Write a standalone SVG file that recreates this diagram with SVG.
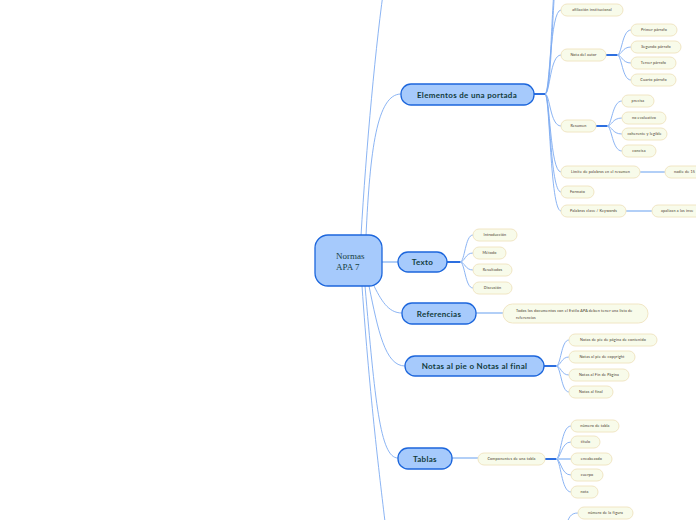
<svg xmlns="http://www.w3.org/2000/svg" width="696" height="520" viewBox="0 0 696 520">
<style>
.bg{fill:#ffffff}
.main rect{fill:#a6cafc;stroke:#1c66dc;stroke-width:1.3}
.main text{font-family:Lato,"Liberation Sans",sans-serif;font-weight:bold;font-size:8px;letter-spacing:0.3px;fill:#123c3c;text-anchor:middle}
.root rect{fill:#a6cafc;stroke:#1c66dc;stroke-width:1.3}
.root text{font-family:"Liberation Serif",serif;font-size:9px;fill:#173f3f}
.leaf rect{fill:#f8fbea;stroke:#f1e6c4;stroke-width:1}
.leaf text{font-family:Lato,"Liberation Sans",sans-serif;font-size:3.7px;letter-spacing:0.2px;fill:#3e3427;text-anchor:middle}
.leaf text.l{text-anchor:start}
.c{fill:none;stroke:#7eacf2;stroke-width:0.9}
.s{fill:none;stroke:#2d6fe0;stroke-width:2}
.h{fill:none;stroke:#b2cff7;stroke-width:2}
</style>
<rect class="bg" x="0" y="0" width="696" height="520"/>
<g id="connectors">
<path class="c" d="M361 236 C366 150 376 40 385 -20"/>
<path class="c" d="M366 236 C370 150 377 94 401 94"/>
<path class="h" d="M381 262 L398 262"/>
<path class="c" d="M373 284 C381 300 388 313 402 313"/>
<path class="c" d="M369 286 C378 330 385 366 405 366"/>
<path class="c" d="M365 286 C375 400 380 458 398 458"/>
<path class="c" d="M362 286 C370 400 380 480 386 530"/>
<path class="s" d="M534 94 L545 94"/>
<path class="c" d="M545 94 C551 94 552 20 556 -30"/>
<path class="c" d="M545 94 C550 94 551 30 554 -10"/>
<path class="c" d="M545 94 C550 94 550 10 561 10"/>
<path class="c" d="M545 94 C550 94 550 55 561 55"/>
<path class="c" d="M545 94 C550 94 550 126 561 126"/>
<path class="c" d="M545 94 C550 94 550 172 561 172"/>
<path class="c" d="M545 94 C550 94 550 192 561 192"/>
<path class="c" d="M545 94 C550 94 550 211 561 211"/>
<path class="s" d="M606 55 L617 55"/>
<path class="c" d="M617 55 C622 55 622 30 631 30"/>
<path class="c" d="M617 55 C622 55 622 47 631 47"/>
<path class="c" d="M617 55 C622 55 622 63 631 63"/>
<path class="c" d="M617 55 C622 55 622 80 631 80"/>
<path class="s" d="M596 126 L607 126"/>
<path class="c" d="M607 126 C612 126 612 101 622 101"/>
<path class="c" d="M607 126 C612 126 612 118 622 118"/>
<path class="c" d="M607 126 C612 126 612 134 622 134"/>
<path class="c" d="M607 126 C612 126 612 151 622 151"/>
<path class="h" d="M640 172 L665 172"/>
<path class="h" d="M626 211 L652 211"/>
<path class="s" d="M447 262 L460 262"/>
<path class="c" d="M460 262 C465 262 465 235 473 235"/>
<path class="c" d="M460 262 C465 262 465 253 473 253"/>
<path class="c" d="M460 262 C465 262 465 270 473 270"/>
<path class="c" d="M460 262 C465 262 465 288 473 288"/>
<path class="h" d="M476 313 L503 313"/>
<path class="s" d="M544 366 L556 366"/>
<path class="c" d="M556 366 C561 366 561 340 569 340"/>
<path class="c" d="M556 366 C561 366 561 357 569 357"/>
<path class="c" d="M556 366 C561 366 561 375 569 375"/>
<path class="c" d="M556 366 C561 366 561 392 569 392"/>
<path class="h" d="M452 458 L478 458"/>
<path class="s" d="M545 459 L556 459"/>
<path class="c" d="M556 459 C561 459 561 426 571 426"/>
<path class="c" d="M556 459 C561 459 561 442 571 442"/>
<path class="h" d="M556 459 L571 459"/>
<path class="c" d="M556 459 C561 459 561 475 571 475"/>
<path class="c" d="M556 459 C561 459 561 492 571 492"/>
<path class="c" d="M566 525 C569 518 570 513 578 513"/>
</g>
<g id="root" class="root">
<rect x="315" y="235" width="67" height="51" rx="13"/>
<text x="336" y="259">Normas</text>
<text x="336" y="270">APA 7</text>
</g>
<g id="n-elementos" class="main"><rect x="401" y="84" width="133" height="21" rx="10"/><text x="467" y="97.5">Elementos de una portada</text></g>
<g id="n-texto" class="main"><rect x="398" y="252" width="49" height="20" rx="10"/><text x="422.5" y="265">Texto</text></g>
<g id="n-referencias" class="main"><rect x="402" y="303" width="74" height="21" rx="10"/><text x="439" y="316.5">Referencias</text></g>
<g id="n-notas" class="main"><rect x="405" y="356" width="139" height="20" rx="10"/><text x="474.5" y="369">Notas al pie o Notas al final</text></g>
<g id="n-tablas" class="main"><rect x="398" y="448" width="54" height="21" rx="10"/><text x="425" y="461.5">Tablas</text></g>

<g id="l-afiliacion" class="leaf"><rect x="561" y="4" width="62" height="12" rx="6"/><text x="592" y="11.3">afiliación institucional</text></g>
<g id="l-nota-autor" class="leaf"><rect x="561" y="49" width="45" height="12" rx="6"/><text x="583.5" y="56.3">Nota del autor</text></g>
<g id="l-primer" class="leaf"><rect x="631" y="24" width="46" height="12" rx="6"/><text x="654" y="31.3">Primer párrafo</text></g>
<g id="l-segundo" class="leaf"><rect x="631" y="41" width="50" height="12" rx="6"/><text x="656" y="48.3">Segundo párrafo</text></g>
<g id="l-tercer" class="leaf"><rect x="631" y="57" width="45" height="12" rx="6"/><text x="653.5" y="64.3">Tercer párrafo</text></g>
<g id="l-cuarto" class="leaf"><rect x="631" y="74" width="45" height="12" rx="6"/><text x="653.5" y="81.3">Cuarto párrafo</text></g>
<g id="l-resumen" class="leaf"><rect x="561" y="120" width="35" height="12" rx="6"/><text x="578.5" y="127.3">Resumen</text></g>
<g id="l-precisa" class="leaf"><rect x="622" y="95" width="32" height="12" rx="6"/><text x="638" y="102.3">precisa</text></g>
<g id="l-noeval" class="leaf"><rect x="622" y="112" width="44" height="12" rx="6"/><text x="644" y="119.3">no evaluativo</text></g>
<g id="l-coherente" class="leaf"><rect x="622" y="128" width="45" height="12" rx="6"/><text x="644.5" y="135.3">coherente y legible</text></g>
<g id="l-concisa" class="leaf"><rect x="622" y="145" width="34" height="12" rx="6"/><text x="639" y="152.3">concisa</text></g>
<g id="l-limite" class="leaf"><rect x="561" y="166" width="79" height="12" rx="6"/><text x="600.5" y="173.3">Límite de palabras en el resumen</text></g>
<g id="l-nadie" class="leaf"><rect x="665" y="166" width="60" height="12" rx="6"/><text class="l" x="674" y="173.3">nadie de 15</text></g>
<g id="l-formato" class="leaf"><rect x="561" y="186" width="33" height="12" rx="6"/><text x="577.5" y="193.3">Formato</text></g>
<g id="l-palabras" class="leaf"><rect x="561" y="205" width="65" height="12" rx="6"/><text x="593.5" y="212.3">Palabras clave / Keywords</text></g>
<g id="l-apalizan" class="leaf"><rect x="652" y="205" width="70" height="12" rx="6"/><text class="l" x="661" y="212.3">apalizan a las inve</text></g>

<g id="l-intro" class="leaf"><rect x="473" y="229" width="44" height="12" rx="6"/><text x="495" y="236.3">Introducción</text></g>
<g id="l-metodo" class="leaf"><rect x="473" y="247" width="33" height="12" rx="6"/><text x="489.5" y="254.3">Método</text></g>
<g id="l-resultados" class="leaf"><rect x="473" y="264" width="39" height="12" rx="6"/><text x="492.5" y="271.3">Resultados</text></g>
<g id="l-discusion" class="leaf"><rect x="473" y="282" width="39" height="12" rx="6"/><text x="492.5" y="289.3">Discusión</text></g>

<g id="l-todos" class="leaf"><rect x="503" y="304" width="145" height="19" rx="9.5"/>
<text class="l" x="516" y="311.5">Todos los documentos con el Estilo APA deben tener una lista de</text>
<text class="l" x="516" y="318.5">referencias</text></g>

<g id="l-notas-contenido" class="leaf"><rect x="569" y="334" width="88" height="12" rx="6"/><text x="613" y="341.3">Notas de pie de página de contenido</text></g>
<g id="l-notas-copyright" class="leaf"><rect x="569" y="351" width="66" height="12" rx="6"/><text x="602" y="358.3">Notas al pie de copyright</text></g>
<g id="l-notas-fin" class="leaf"><rect x="569" y="369" width="60" height="12" rx="6"/><text x="599" y="376.3">Notas al Fin de Página</text></g>
<g id="l-notas-final" class="leaf"><rect x="569" y="386" width="44" height="12" rx="6"/><text x="591" y="393.3">Notas al final</text></g>

<g id="l-componentes" class="leaf"><rect x="478" y="453" width="67" height="12" rx="6"/><text x="511.5" y="460.3">Componentes de una tabla</text></g>
<g id="l-numero" class="leaf"><rect x="571" y="420" width="48" height="12" rx="6"/><text x="595" y="427.3">número de tabla</text></g>
<g id="l-titulo" class="leaf"><rect x="571" y="436" width="29" height="12" rx="6"/><text x="585.5" y="443.3">título</text></g>
<g id="l-encabezado" class="leaf"><rect x="571" y="453" width="41" height="12" rx="6"/><text x="591.5" y="460.3">encabezado</text></g>
<g id="l-cuerpo" class="leaf"><rect x="571" y="469" width="32" height="12" rx="6"/><text x="587" y="476.3">cuerpo</text></g>
<g id="l-nota" class="leaf"><rect x="571" y="486" width="27" height="12" rx="6"/><text x="584.5" y="493.3">nota</text></g>
<g id="l-figura" class="leaf"><rect x="578" y="507" width="55" height="12" rx="6"/><text x="605.5" y="514.3">número de la figura</text></g>
</svg>
